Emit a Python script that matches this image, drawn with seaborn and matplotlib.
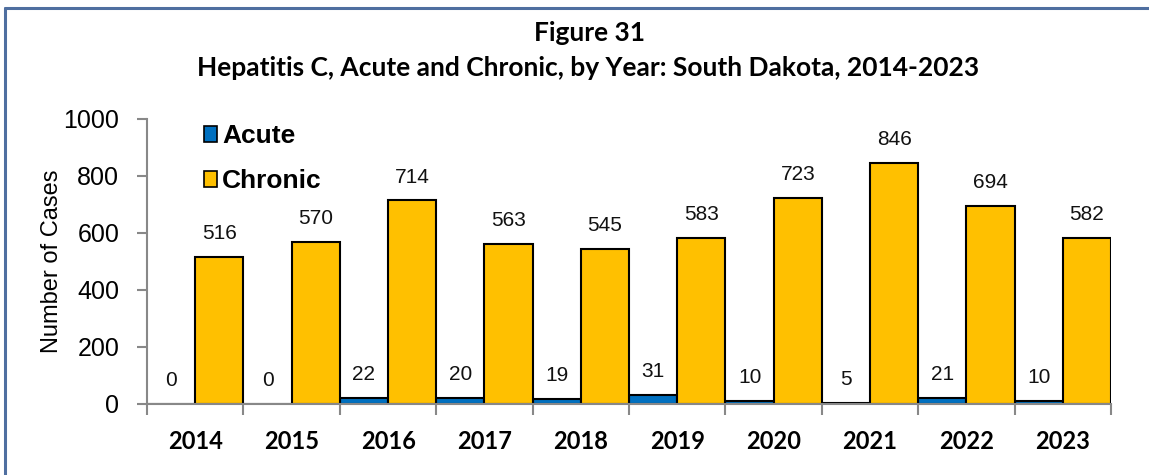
import matplotlib
matplotlib.use("Agg")
import matplotlib.pyplot as plt
from matplotlib.lines import Line2D
from matplotlib.patches import Patch
import seaborn as sns
import pandas as pd

years = ["2014", "2015", "2016", "2017", "2018", "2019", "2020", "2021", "2022", "2023"]
acute = [0, 0, 22, 20, 19, 31, 10, 5, 21, 10]
chronic = [516, 570, 714, 563, 545, 583, 723, 846, 694, 582]
series = ["Acute", "Chronic"]
colors = ["#0070C0", "#FFC000"]

sns.set_style("white")
plt.rcParams['font.family'] = ['Liberation Sans', 'DejaVu Sans']
plt.rcParams['text.color'] = 'black'
plt.rcParams['axes.labelcolor'] = 'black'

df = pd.DataFrame({
    'Year': years * 2,
    'Cases': acute + chronic,
    'Type': ['Acute'] * len(years) + ['Chronic'] * len(years),
})

fig = plt.figure(figsize=(11.49, 4.75), dpi=100)
ax = fig.add_axes([0.128, 0.1495, 0.839, 0.6])

sns.barplot(data=df, x='Year', y='Cases', hue='Type', hue_order=series,
            palette=colors, width=1.0, gap=0, edgecolor='black', linewidth=1.5,
            saturation=1, ax=ax, legend=False)

for cont in ax.containers:
    ax.bar_label(cont, padding=10, fontsize=15, color='#111111')

ax.set_ylim(0, 1000)
ax.set_xlim(-0.5, 9.5)
ax.set_yticks(range(0, 1001, 200))
ax.tick_params(axis='y', labelsize=18, length=7, color='#888888', labelcolor='black',
               width=1.5, left=True, pad=13)
ax.set_xticks(range(10))
ax.set_xticklabels(years, fontsize=17, fontweight='bold', family=['Lato', 'DejaVu Sans'])
ax.tick_params(axis='x', which='major', length=0, pad=19, labelcolor='black')
ax.set_xticks([i - 0.5 for i in range(11)], minor=True)
ax.tick_params(axis='x', which='minor', length=8, color='#888888', width=1.5, bottom=True)
ax.set_xlabel('')
ax.set_ylabel('Number of Cases', fontsize=17, labelpad=0)

for s in ['top', 'right']:
    ax.spines[s].set_visible(False)
for s in ['left', 'bottom']:
    ax.spines[s].set_color('#888888')
    ax.spines[s].set_linewidth(1.5)

handles = [Patch(facecolor=c, edgecolor='black', linewidth=1.2) for c in colors]
ax.legend(handles, series, loc='upper left', bbox_to_anchor=(0.034, 1.065),
          frameon=False, prop={'size': 19, 'weight': 'bold'},
          handlelength=0.5, handleheight=0.55, handletextpad=0.2, labelspacing=0.8)

fig.text(0.513, 0.93, 'Figure 31', ha='center', va='center', fontsize=19,
         fontweight='bold', family=['Lato', 'DejaVu Sans'])
fig.text(0.512, 0.857, 'Hepatitis C, Acute and Chronic, by Year: South Dakota, 2014-2023',
         ha='center', va='center', fontsize=19, fontweight='bold', family=['Lato', 'DejaVu Sans'])

frame = '#4F6FA0'
fig.add_artist(Line2D([5 / 1149, 5 / 1149], [0, 1 - 8 / 475], color=frame, linewidth=2.2,
                      transform=fig.transFigure))
fig.add_artist(Line2D([5 / 1149, 1], [1 - 8 / 475, 1 - 8 / 475], color=frame, linewidth=2.2,
                      transform=fig.transFigure))

fig.savefig('out.png', dpi=100)
